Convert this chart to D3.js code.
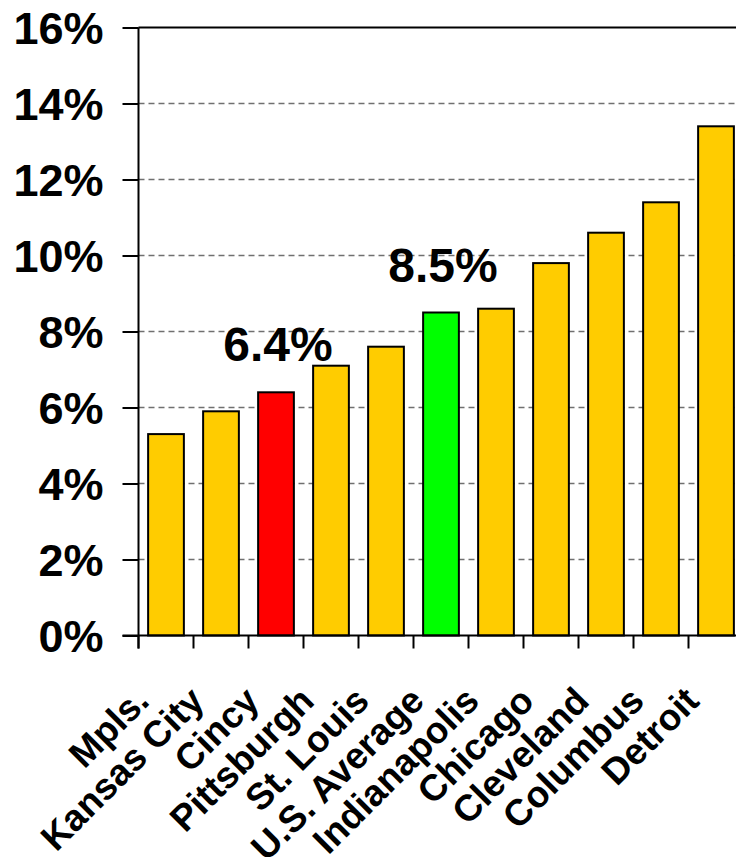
<!DOCTYPE html>
<html>
<head>
<meta charset="utf-8">
<script src="https://cdn.jsdelivr.net/npm/d3@7"></script>
<style>
  html, body { margin: 0; padding: 0; background: #ffffff; }
  svg { display: block; font-family: "Liberation Sans", Arial, Helvetica, sans-serif; font-weight: bold; }
</style>
</head>
<body>
<svg id="chart" width="736" height="857"></svg>
<script>
// Unemployment rate by metro area (percent)
const cities = ["Mpls.", "Kansas City", "Cincy", "Pittsburgh", "St. Louis", "U.S. Average",
                "Indianapolis", "Chicago", "Cleveland", "Columbus", "Detroit"];
const rates = [5.3, 5.9, 6.4, 7.1, 7.6, 8.5, 8.6, 9.8, 10.6, 11.4, 13.4];
const yTickValues = [0, 2, 4, 6, 8, 10, 12, 14, 16];
const yTickLabels = ["0%", "2%", "4%", "6%", "8%", "10%", "12%", "14%", "16%"];
const calloutCities = ["Cincy", "U.S. Average"];

const highlightFill = { "Cincy": "#ff0000", "U.S. Average": "#00ff00" };
const baseFill = "#ffcc00";

const svg = d3.select("#chart");
const plotLeft = 138.5, plotRight = 743.5, plotTop = 27.5, plotBottom = 635.5;

const x = d3.scaleBand()
  .domain(cities)
  .range([plotLeft, plotRight])
  .paddingInner(0.35)
  .paddingOuter(0.175);

const y = d3.scaleLinear()
  .domain([0, 16])
  .range([plotBottom, plotTop]);

const step = x.step();
const edge = d => x(d) + x.bandwidth() / 2 - step / 2;

// dashed gridlines
svg.append("g")
  .selectAll("line")
  .data(yTickValues.filter(v => v > 0 && v < 16))
  .join("line")
  .attr("x1", plotLeft).attr("x2", 736)
  .attr("y1", d => y(d)).attr("y2", d => y(d))
  .attr("stroke", "#707070")
  .attr("stroke-width", 1.3)
  .attr("stroke-dasharray", "6,4");

// top border of plot
svg.append("line")
  .attr("x1", plotLeft).attr("x2", 736)
  .attr("y1", y(16)).attr("y2", y(16))
  .attr("stroke", "#000").attr("stroke-width", 2);

// bars
svg.append("g")
  .selectAll("rect")
  .data(cities.map((c, i) => ({ city: c, value: rates[i] })))
  .join("rect")
  .attr("x", d => x(d.city))
  .attr("width", x.bandwidth())
  .attr("y", d => y(d.value))
  .attr("height", d => y(0) - y(d.value))
  .attr("fill", d => highlightFill[d.city] || baseFill)
  .attr("stroke", "#000")
  .attr("stroke-width", 2);

// y axis
const yAxis = svg.append("g")
  .attr("transform", `translate(${plotLeft},0)`)
  .call(d3.axisLeft(y)
    .tickValues(yTickValues)
    .tickFormat((d, i) => yTickLabels[i])
    .tickSize(16)
    .tickPadding(19));
yAxis.select(".domain").remove();
yAxis.selectAll(".tick line").attr("stroke", "#000").attr("stroke-width", 2);
yAxis.selectAll(".tick text")
  .attr("fill", "#000")
  .style("font-family", "'Liberation Sans', Arial, sans-serif")
  .style("font-weight", "bold")
  .style("font-size", "45px")
  .attr("dy", "0.36em");

// vertical axis line
svg.append("line")
  .attr("x1", plotLeft).attr("x2", plotLeft)
  .attr("y1", plotTop).attr("y2", plotBottom + 13)
  .attr("stroke", "#000").attr("stroke-width", 2);

// horizontal axis line
svg.append("line")
  .attr("x1", plotLeft - 16).attr("x2", 736)
  .attr("y1", plotBottom).attr("y2", plotBottom)
  .attr("stroke", "#000").attr("stroke-width", 2);

// category ticks at band edges
svg.append("g")
  .selectAll("line")
  .data(cities)
  .join("line")
  .attr("x1", d => edge(d)).attr("x2", d => edge(d))
  .attr("y1", plotBottom).attr("y2", plotBottom + 13)
  .attr("stroke", "#000").attr("stroke-width", 2);

// rotated category labels
svg.append("g")
  .selectAll("text")
  .data(cities)
  .join("text")
  .attr("transform", d => `translate(${x(d) + x.bandwidth() / 2 - 15},703) rotate(-45)`)
  .attr("text-anchor", "end")
  .style("font-size", "37px")
  .attr("fill", "#000")
  .text(d => d);

// value callouts above highlighted bars
svg.append("g")
  .selectAll("text")
  .data(calloutCities)
  .join("text")
  .attr("x", d => x(d) + x.bandwidth() / 2 + 2)
  .attr("y", d => y(rates[cities.indexOf(d)]) - 31)
  .attr("text-anchor", "middle")
  .style("font-size", "48px")
  .attr("fill", "#000")
  .text(d => rates[cities.indexOf(d)].toFixed(1) + "%");
</script>
</body>
</html>
